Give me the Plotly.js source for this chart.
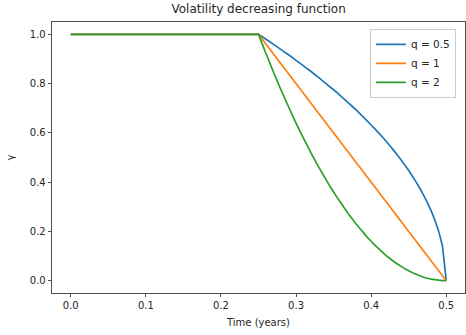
<!DOCTYPE html>
<html>
<head>
<meta charset="utf-8">
<script src="https://cdn.plot.ly/plotly-3.0.1.min.js"></script>
<style>html,body{margin:0;padding:0;background:#fff;}#chart{width:466px;height:335px;}</style>
</head>
<body>
<div id="chart"></div>
<script>
// Time grid (years)
var time = [0, 0.25, 0.255, 0.26, 0.265, 0.27, 0.275, 0.28, 0.285, 0.29, 0.295,
  0.30, 0.305, 0.31, 0.315, 0.32, 0.325, 0.33, 0.335, 0.34, 0.345,
  0.35, 0.355, 0.36, 0.365, 0.37, 0.375, 0.38, 0.385, 0.39, 0.395,
  0.40, 0.405, 0.41, 0.415, 0.42, 0.425, 0.43, 0.435, 0.44, 0.445,
  0.45, 0.455, 0.46, 0.465, 0.47, 0.475, 0.48, 0.485, 0.49, 0.495, 0.5];
// gamma values
var gammaQ05 = [1, 1, 0.990, 0.980, 0.970, 0.959, 0.949, 0.938, 0.927, 0.917, 0.906,
  0.894, 0.883, 0.872, 0.860, 0.849, 0.837, 0.825, 0.812, 0.800, 0.787,
  0.775, 0.762, 0.748, 0.735, 0.721, 0.707, 0.693, 0.678, 0.663, 0.648,
  0.632, 0.616, 0.600, 0.583, 0.566, 0.548, 0.529, 0.510, 0.490, 0.469,
  0.447, 0.424, 0.400, 0.374, 0.346, 0.316, 0.283, 0.245, 0.200, 0.141, 0];
var gammaQ1 = [1, 1, 0.98, 0.96, 0.94, 0.92, 0.90, 0.88, 0.86, 0.84, 0.82,
  0.80, 0.78, 0.76, 0.74, 0.72, 0.70, 0.68, 0.66, 0.64, 0.62,
  0.60, 0.58, 0.56, 0.54, 0.52, 0.50, 0.48, 0.46, 0.44, 0.42,
  0.40, 0.38, 0.36, 0.34, 0.32, 0.30, 0.28, 0.26, 0.24, 0.22,
  0.20, 0.18, 0.16, 0.14, 0.12, 0.10, 0.08, 0.06, 0.04, 0.02, 0];
var gammaQ2 = [1, 1, 0.960, 0.922, 0.884, 0.846, 0.810, 0.774, 0.740, 0.706, 0.672,
  0.640, 0.608, 0.578, 0.548, 0.518, 0.490, 0.462, 0.436, 0.410, 0.384,
  0.360, 0.336, 0.314, 0.292, 0.270, 0.250, 0.230, 0.212, 0.194, 0.176,
  0.160, 0.144, 0.130, 0.116, 0.102, 0.090, 0.078, 0.068, 0.058, 0.048,
  0.040, 0.032, 0.026, 0.020, 0.014, 0.010, 0.006, 0.004, 0.002, 0.0004, 0];
var seriesNames = ["q = 0.5", "q = 1", "q = 2"];
var seriesColors = ["#1f77b4", "#ff7f0e", "#2ca02c"];
var xTicks = [0, 0.1, 0.2, 0.3, 0.4, 0.5];
var yTicks = [0, 0.2, 0.4, 0.6, 0.8, 1.0];

var ys = [gammaQ05, gammaQ1, gammaQ2];
var traces = ys.map(function(y, i){
  return {x: time, y: y, type: 'scatter', mode: 'lines', name: seriesNames[i],
          line: {color: seriesColors[i], width: 1.7, simplify: false}};
});

var axisCommon = {
  showline: true, mirror: true, linecolor: '#222', linewidth: 0.8,
  ticks: 'outside', ticklen: 3.5, tickwidth: 0.8, tickcolor: '#222',
  showgrid: false, zeroline: false,
  tickfont: {family: 'DejaVu Sans', size: 10, color: '#262626'}
};

var layout = {
  width: 466, height: 335,
  margin: {l: 52, r: 1, t: 22, b: 42},
  paper_bgcolor: '#fff', plot_bgcolor: '#fff',
  font: {family: 'DejaVu Sans', color: '#262626'},
  title: {text: 'Volatility decreasing function', font: {family: 'DejaVu Sans', size: 12, color: '#262626'},
          x: 0.555, xanchor: 'center', y: 0.975, yanchor: 'middle'},
  xaxis: Object.assign({}, axisCommon, {
    range: [-0.025, 0.525], tickvals: xTicks, ticktext: xTicks.map(function(v){return v.toFixed(1);}),
    title: {text: 'Time (years)', font: {family: 'DejaVu Sans', size: 10, color: '#262626'}, standoff: 8}
  }),
  yaxis: Object.assign({}, axisCommon, {
    range: [-0.05, 1.05], tickvals: yTicks, ticktext: yTicks.map(function(v){return v.toFixed(1);}),
    title: {text: 'γ', font: {family: 'DejaVu Sans', size: 10, color: '#262626'}, standoff: 13}
  }),
  showlegend: true,
  legend: {x: 0.978, xanchor: 'right', y: 0.975, yanchor: 'top',
           bordercolor: '#cccccc', borderwidth: 1, bgcolor: 'rgba(255,255,255,0.8)',
           font: {family: 'DejaVu Sans', size: 10.5, color: '#262626'}, tracegroupgap: 0}
};

Plotly.newPlot('chart', traces, layout, {displayModeBar: false, staticPlot: true});
</script>
</body>
</html>
